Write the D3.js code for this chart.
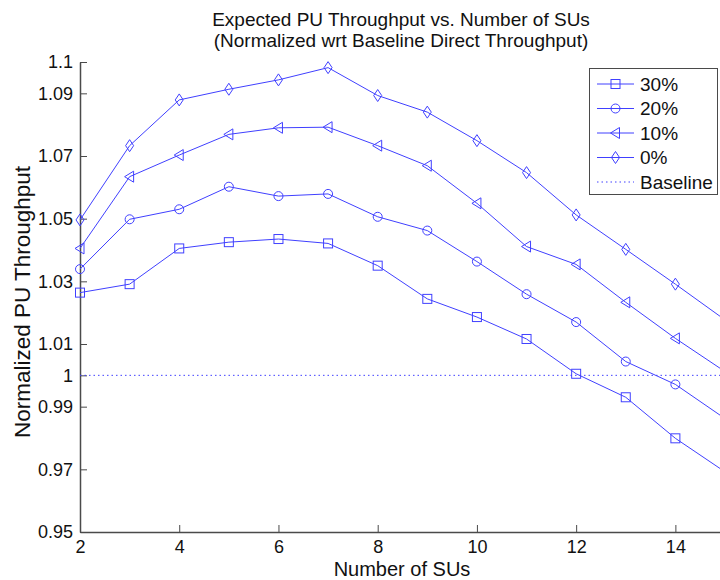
<!DOCTYPE html>
<html>
<head>
<meta charset="utf-8">
<script src="https://cdn.jsdelivr.net/npm/d3@7"></script>
<style>
  body { margin: 0; background: #fff; }
  svg { display: block; font-family: "Liberation Sans", Arial, sans-serif; }
</style>
</head>
<body>
<div id="container"></div>
<script>
// data
const suCounts = [2, 3, 4, 5, 6, 7, 8, 9, 10, 11, 12, 13, 14, 15];
const pu30 = [1.0264, 1.0291, 1.0405, 1.0425, 1.0435, 1.0421, 1.0350, 1.0244, 1.0186, 1.0116, 1.0005, 0.9930, 0.9799, 0.9692];
const pu20 = [1.0339, 1.0498, 1.0530, 1.0602, 1.0572, 1.0579, 1.0506, 1.0462, 1.0363, 1.0259, 1.0170, 1.0044, 0.9971, 0.9862];
const pu10 = [1.0405, 1.0634, 1.0703, 1.0769, 1.0790, 1.0792, 1.0733, 1.0669, 1.0549, 1.0411, 1.0354, 1.0233, 1.0118, 1.0012];
const pu0 = [1.0496, 1.0733, 1.0879, 1.0913, 1.0943, 1.0982, 1.0893, 1.0840, 1.0749, 1.0647, 1.0512, 1.0402, 1.0291, 1.0177];
const baseline = 1;
const seriesNames = ['30%', '20%', '10%', '0%'];
const markers = ['square', 'circle', 'triangle', 'diamond'];
const xTicks = [2, 4, 6, 8, 10, 12, 14];
const yTicks = [0.95, 0.97, 0.99, 1, 1.01, 1.03, 1.05, 1.07, 1.09, 1.1];

const series = [pu30, pu20, pu10, pu0].map((vals, i) => ({
    name: seriesNames[i],
    marker: markers[i],
    values: vals.map((v, j) => ({ x: suCounts[j], y: v }))
}));

const W = 720, H = 580;
const blue = '#4040ff';
const axisColor = '#4a4a4a';
const textColor = '#111';

const svg = d3.select('#container')
    .append('svg')
    .attr('width', W)
    .attr('height', H);

const x = d3.scaleLinear().domain([2, 15]).range([80, 725]);
const y = d3.scaleLinear().domain([0.95, 1.1]).range([532, 62]);

// axes, matlab style with inward ticks
const xAxis = svg.append('g')
    .attr('transform', `translate(0, ${y(0.95)})`)
    .call(d3.axisBottom(x).tickValues(xTicks).tickSizeInner(-7).tickSizeOuter(0).tickPadding(8).tickFormat(d3.format('d')));

const yAxis = svg.append('g')
    .attr('transform', `translate(${x(2)}, 0)`)
    .call(d3.axisLeft(y).tickValues(yTicks).tickSizeInner(-7).tickSizeOuter(0).tickPadding(7).tickFormat(d => String(+d.toFixed(2))));

[xAxis, yAxis].forEach(g => {
    g.select('.domain').attr('stroke', axisColor).attr('stroke-width', 1.5);
    g.selectAll('.tick line').attr('stroke', axisColor).attr('stroke-width', 1);
    g.selectAll('.tick text').attr('fill', textColor).attr('font-size', 18).attr('font-family', '"Liberation Sans", Arial, sans-serif');
});

// baseline
svg.append('line')
    .attr('x1', x(2)).attr('x2', x(15))
    .attr('y1', y(baseline)).attr('y2', y(baseline))
    .attr('stroke', blue)
    .attr('stroke-width', 1)
    .attr('stroke-dasharray', '1.5,3');

const line = d3.line().x(d => x(d.x)).y(d => y(d.y));

const drawMarker = (g, type, cx, cy) => {
    if (type === 'square') {
        g.append('rect').attr('x', cx - 4.5).attr('y', cy - 4.5).attr('width', 9).attr('height', 9);
    } else if (type === 'circle') {
        g.append('circle').attr('cx', cx).attr('cy', cy).attr('r', 4.5);
    } else if (type === 'triangle') {
        g.append('path').attr('d', `M${cx - 5},${cy}L${cx + 4},${cy - 5.5}L${cx + 4},${cy + 5.5}Z`);
    } else {
        g.append('path').attr('d', `M${cx},${cy - 6}L${cx + 4},${cy}L${cx},${cy + 6}L${cx - 4},${cy}Z`);
    }
};

series.forEach(s => {
    const g = svg.append('g')
        .attr('fill', 'none')
        .attr('stroke', blue)
        .attr('stroke-width', 1);
    g.append('path').datum(s.values).attr('d', line);
    s.values.forEach(d => drawMarker(g, s.marker, x(d.x), y(d.y)));
});

// legend
const legend = svg.append('g');
legend.append('rect')
    .attr('x', 589.5).attr('y', 68.5)
    .attr('width', 128).attr('height', 126)
    .attr('fill', '#fff')
    .attr('stroke', axisColor)
    .attr('stroke-width', 1);

const legendItems = series.map(s => ({ name: s.name, marker: s.marker }))
    .concat([{ name: 'Baseline', marker: null }]);

legendItems.forEach((item, i) => {
    const ly = 84 + i * 24.5;
    const g = legend.append('g').attr('fill', 'none').attr('stroke', blue).attr('stroke-width', 1);
    g.append('line')
        .attr('x1', 597).attr('x2', 634)
        .attr('y1', ly).attr('y2', ly)
        .attr('stroke-dasharray', item.marker ? null : '1.5,3');
    if (item.marker) drawMarker(g, item.marker, 615.5, ly);
    legend.append('text')
        .attr('x', 640).attr('y', ly)
        .attr('dy', '0.36em')
        .attr('font-size', 19)
        .attr('fill', textColor)
        .text(item.name);
});

// titles
svg.append('text')
    .attr('x', 401).attr('y', 26)
    .attr('text-anchor', 'middle')
    .attr('font-size', 19)
    .attr('fill', textColor)
    .text('Expected PU Throughput vs. Number of SUs');
svg.append('text')
    .attr('x', 401).attr('y', 47)
    .attr('text-anchor', 'middle')
    .attr('font-size', 19)
    .attr('fill', textColor)
    .text('(Normalized wrt Baseline Direct Throughput)');

svg.append('text')
    .attr('x', 402).attr('y', 575.5)
    .attr('text-anchor', 'middle')
    .attr('font-size', 20)
    .attr('fill', textColor)
    .text('Number of SUs');

svg.append('text')
    .attr('transform', 'translate(30, 302) rotate(-90)')
    .attr('text-anchor', 'middle')
    .attr('font-size', 22.5)
    .attr('fill', textColor)
    .text('Normalized PU Throughput');
</script>
</body>
</html>
